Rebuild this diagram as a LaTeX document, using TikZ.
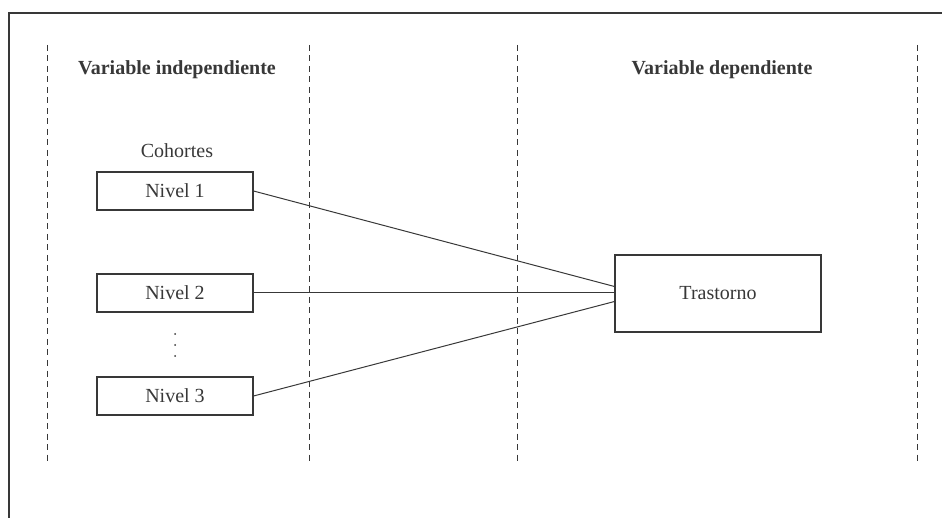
\documentclass[tikz,border=0pt]{standalone}
\usepackage{fontspec}
\setmainfont{Liberation Serif}
\begin{document}
\begin{tikzpicture}[x=1pt,y=-1pt,
  ink/.style={color=black!78},
  frameline/.style={ink,line width=1.8pt},
  divider/.style={ink,line width=0.9pt,dash pattern=on 6pt off 4.5pt},
  levelbox/.style={ink,draw,line width=1.1pt,minimum width=156pt,minimum height=38pt,inner sep=0pt,font=\fontsize{20}{23}\selectfont},
  outcomebox/.style={ink,draw,line width=1.1pt,minimum width=206pt,minimum height=77pt,inner sep=0pt,font=\fontsize{20}{23}\selectfont},
  heading/.style={ink,font=\fontsize{20}{23}\selectfont\bfseries},
  label/.style={ink,font=\fontsize{20}{23}\selectfont},
  dot/.style={ink,fill,circle,inner sep=0pt,minimum size=2pt},
  link/.style={ink,line width=1pt}]
  \useasboundingbox (0,0) rectangle (942,518);

  % open frame: top and left edges only
  \draw[frameline] (9,518) -- (9,13) -- (942,13);

  % column dividers
  \foreach \xx/\nm in {47/d1,309/d2,517/d3,917/d4}{
    \coordinate (\nm top) at (\xx,45);
    \coordinate (\nm bot) at (\xx,463);
    \draw[divider] (\nm top) -- (\nm bot);
  }

  % headings
  \node[heading] (indep) at (177,70) {Variable independiente};
  \node[heading] (dep) at (722,70) {Variable dependiente};

  % levels of the independent variable
  \node[label] (cohort) at (177,151) {Cohortes};
  \node[levelbox] (n1) at (175,191) {Nivel 1};
  \node[levelbox] (n2) at (175,293) {Nivel 2};
  \node[levelbox] (n3) at (175,396) {Nivel 3};

  % vertical ellipsis between the second and third level
  \node[dot] (e1) at (175,334) {};
  \node[dot] (e2) at (175,345) {};
  \node[dot] (e3) at (175,356) {};

  % outcome
  \node[outcomebox] (out) at (718,293.5) {Trastorno};

  % connectors
  \coordinate (in1) at ([yshift=7pt]out.west);
  \coordinate (in3) at ([yshift=-8pt]out.west);
  \draw[link] (n1.east) -- (in1);
  \draw[link] (n2.east) -- (out.west |- n2.east);
  \draw[link] (n3.east) -- (in3);
\end{tikzpicture}
\end{document}
